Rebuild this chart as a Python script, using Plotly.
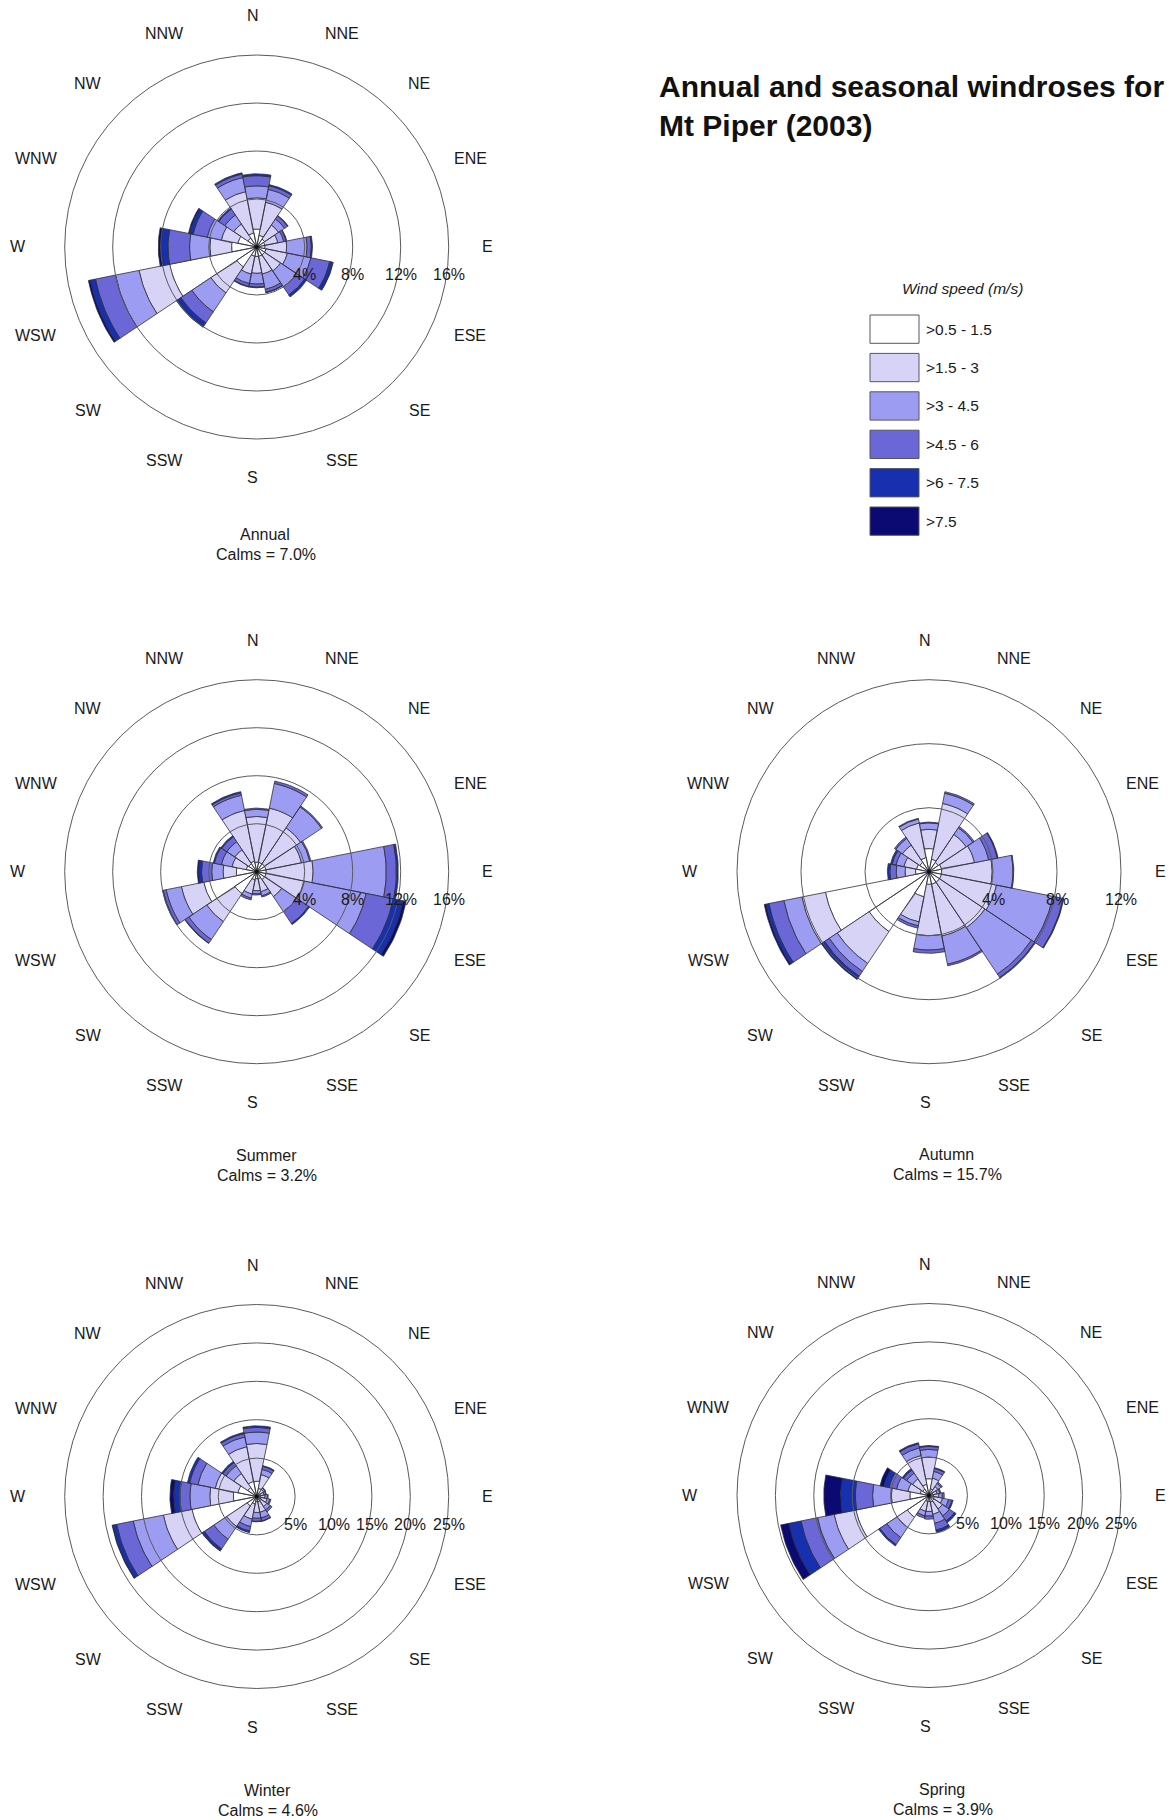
import math
import plotly.graph_objects as go

# ---------------------------------------------------------------------------
# Data: frequency (%) of each wind-speed class per direction sector
# Columns follow SPEED_CLASSES, rows follow DIRECTIONS.
# ---------------------------------------------------------------------------
DIRECTIONS = ["N", "NNE", "NE", "ENE", "E", "ESE", "SE", "SSE",
              "S", "SSW", "SW", "WSW", "W", "WNW", "NW", "NNW"]
SPEED_CLASSES = [">0.5 - 1.5", ">1.5 - 3", ">3 - 4.5", ">4.5 - 6", ">6 - 7.5", ">7.5"]
SPEED_COLORS = ["#ffffff", "#d7d3f7", "#9d9cf3", "#6b67d6", "#1630b0", "#0a0a72"]

ANNUAL = [
    [1.5, 2.6, 1.0, 0.85, 0.15, 0.0],
    [1.0, 2.8, 1.1, 0.3, 0.1, 0.0],
    [0.8, 1.4, 0.6, 0.3, 0.05, 0.0],
    [0.7, 1.1, 0.5, 0.2, 0.05, 0.0],
    [0.7, 1.8, 1.7, 0.35, 0.1, 0.0],
    [0.8, 1.8, 2.0, 1.6, 0.25, 0.05],
    [0.8, 1.6, 1.6, 0.8, 0.2, 0.0],
    [0.8, 1.5, 1.3, 0.25, 0.05, 0.0],
    [0.8, 1.4, 0.9, 0.25, 0.05, 0.0],
    [0.8, 1.5, 0.8, 0.25, 0.05, 0.0],
    [2.0, 2.6, 1.9, 1.1, 0.35, 0.1],
    [7.4, 2.6, 2.0, 1.7, 0.45, 0.15],
    [2.1, 1.8, 1.7, 1.8, 0.55, 0.25],
    [1.6, 1.4, 1.2, 1.2, 0.3, 0.1],
    [0.9, 1.4, 0.9, 0.6, 0.1, 0.0],
    [1.2, 3.5, 1.2, 0.3, 0.1, 0.0],
]

SUMMER = [
    [0.8, 3.8, 0.6, 0.1, 0.0, 0.0],
    [0.8, 4.6, 2.1, 0.2, 0.0, 0.0],
    [0.8, 3.6, 2.1, 0.1, 0.0, 0.0],
    [0.8, 3.0, 0.7, 0.1, 0.0, 0.0],
    [0.8, 3.9, 6.1, 0.85, 0.15, 0.0],
    [0.8, 3.25, 5.25, 2.3, 0.85, 0.25],
    [0.8, 1.7, 1.5, 1.2, 0.1, 0.0],
    [0.6, 1.1, 0.35, 0.1, 0.0, 0.0],
    [0.6, 1.0, 0.25, 0.1, 0.0, 0.0],
    [0.7, 1.2, 0.35, 0.15, 0.0, 0.0],
    [2.2, 2.8, 1.8, 0.35, 0.05, 0.0],
    [4.5, 1.9, 1.3, 0.25, 0.05, 0.0],
    [1.7, 1.1, 0.95, 0.85, 0.25, 0.1],
    [0.9, 1.2, 0.9, 0.6, 0.1, 0.0],
    [0.8, 1.4, 0.8, 0.5, 0.1, 0.0],
    [0.9, 4.3, 1.3, 0.2, 0.1, 0.0],
]

AUTUMN = [
    [1.45, 1.2, 0.4, 0.05, 0.0, 0.0],
    [0.8, 3.55, 0.65, 0.1, 0.0, 0.0],
    [0.7, 2.1, 0.5, 0.1, 0.0, 0.0],
    [0.8, 2.1, 0.9, 0.55, 0.05, 0.0],
    [0.8, 3.15, 1.3, 0.05, 0.0, 0.0],
    [0.8, 3.5, 3.6, 0.65, 0.05, 0.0],
    [0.8, 3.4, 3.5, 0.25, 0.05, 0.0],
    [0.8, 3.3, 1.8, 0.1, 0.0, 0.0],
    [0.8, 3.2, 0.9, 0.2, 0.0, 0.0],
    [1.6, 1.6, 0.25, 0.15, 0.0, 0.0],
    [4.5, 2.4, 0.6, 0.35, 0.2, 0.05],
    [6.6, 1.5, 1.15, 0.95, 0.2, 0.1],
    [0.85, 0.65, 0.55, 0.4, 0.15, 0.0],
    [0.8, 0.8, 0.5, 0.25, 0.1, 0.0],
    [0.7, 1.3, 0.5, 0.1, 0.0, 0.0],
    [0.9, 2.2, 0.25, 0.05, 0.0, 0.0],
]

WINTER = [
    [2.0, 4.9, 1.5, 0.6, 0.2, 0.0],
    [1.1, 1.8, 0.7, 0.4, 0.1, 0.0],
    [0.5, 0.6, 0.2, 0.1, 0.0, 0.0],
    [0.5, 0.5, 0.2, 0.1, 0.0, 0.0],
    [0.5, 0.6, 0.3, 0.1, 0.0, 0.0],
    [0.6, 0.8, 0.35, 0.15, 0.0, 0.0],
    [0.6, 1.0, 0.5, 0.3, 0.0, 0.0],
    [0.7, 1.4, 0.75, 0.4, 0.05, 0.0],
    [0.7, 1.4, 0.75, 0.4, 0.05, 0.0],
    [1.0, 2.0, 1.0, 0.6, 0.2, 0.0],
    [1.5, 3.2, 2.0, 1.5, 0.3, 0.05],
    [8.6, 3.8, 4.0, 2.2, 0.5, 0.1],
    [3.05, 3.05, 2.6, 1.3, 0.8, 0.5],
    [2.5, 3.0, 2.3, 1.1, 0.3, 0.0],
    [1.4, 2.2, 1.2, 0.5, 0.2, 0.0],
    [2.0, 4.6, 1.3, 0.45, 0.15, 0.0],
]

SPRING = [
    [2.2, 2.8, 1.0, 0.4, 0.1, 0.0],
    [0.9, 1.4, 0.9, 0.4, 0.1, 0.0],
    [0.6, 0.8, 0.5, 0.2, 0.0, 0.0],
    [0.5, 0.6, 0.35, 0.15, 0.0, 0.0],
    [0.6, 0.7, 0.45, 0.25, 0.0, 0.0],
    [0.7, 1.1, 0.8, 0.45, 0.15, 0.0],
    [0.8, 1.3, 1.1, 0.8, 0.25, 0.0],
    [0.9, 1.6, 1.2, 0.9, 0.3, 0.0],
    [0.8, 1.3, 0.6, 0.4, 0.0, 0.0],
    [0.8, 1.3, 0.6, 0.3, 0.0, 0.0],
    [3.4, 1.6, 1.6, 1.1, 0.2, 0.0],
    [9.7, 2.9, 2.2, 2.2, 1.6, 1.1],
    [2.5, 2.4, 2.45, 2.25, 1.9, 2.2],
    [1.2, 1.6, 1.5, 1.0, 0.7, 0.5],
    [1.0, 1.6, 0.9, 0.5, 0.2, 0.0],
    [1.5, 3.8, 1.0, 0.55, 0.15, 0.0],
]

ROSE_NAMES = ["Annual", "Summer", "Autumn", "Winter", "Spring"]
CALMS = [7.0, 3.2, 15.7, 4.6, 3.9]
ANNUAL_RINGS = [4, 8, 12, 16]
SUMMER_RINGS = [4, 8, 12, 16]
AUTUMN_RINGS = [4, 8, 12]
WINTER_RINGS = [5, 10, 15, 20, 25]
SPRING_RINGS = [5, 10, 15, 20, 25]

TITLE = "Annual and seasonal windroses for<br>Mt Piper (2003)"
LEGEND_TITLE = "Wind speed (m/s)"

# ---------------------------------------------------------------------------
# Page layout (pixels)
# ---------------------------------------------------------------------------
FIG_W, FIG_H = 1169, 1820
ROSE_CENTERS = [(256.7, 247.0), (256.7, 871.7), (929.0, 871.7),
                (256.7, 1496.5), (929.0, 1495.5)]
CAPTION_POS = [(265, 534), (266, 1155), (946, 1154), (267, 1790), (941.5, 1789)]
OUTER_RING_PX = 192.0
LABEL_R_PX = 231.0
BOX_HALF_PX = 235.0
FONT = "Liberation Sans, Arial, Helvetica, sans-serif"
TEXT_COLOR = "#1a1a1a"
LABEL_SIZE = 16
SECTOR = 360.0 / len(DIRECTIONS)


def px_x(px):
    return px / FIG_W


def px_y(py):
    return 1.0 - py / FIG_H


def wedge(inner, outer, centre_deg, n=14):
    """Closed outline of an annular sector (compass angle, clockwise from N)."""
    angs = [math.radians(centre_deg - SECTOR / 2 + SECTOR * t / n) for t in range(n + 1)]
    pts = [(outer * math.sin(a), outer * math.cos(a)) for a in angs]
    pts += [(inner * math.sin(a), inner * math.cos(a)) for a in reversed(angs)]
    pts.append(pts[0])
    return pts


def label_offset(a):
    """Page offset (px) of a compass label; western labels sit a little wider."""
    s, c = math.sin(a), math.cos(a)
    dx = LABEL_R_PX * s - 4.0 * c ** 4
    if s < 0:
        dx -= 8.0 * s * s
    return dx, -LABEL_R_PX * c


roses = list(zip(ROSE_NAMES,
                 [ANNUAL, SUMMER, AUTUMN, WINTER, SPRING],
                 [ANNUAL_RINGS, SUMMER_RINGS, AUTUMN_RINGS, WINTER_RINGS, SPRING_RINGS],
                 CALMS))

fig = go.Figure()
axes_layout = {}
shapes = []
annotations = []

for i, (name, table, rings, calm) in enumerate(roses):
    n = i + 1
    sfx = "" if n == 1 else str(n)
    xa, ya = "x" + sfx, "y" + sfx
    cx, cy = ROSE_CENTERS[i]
    k = OUTER_RING_PX / rings[-1]          # pixels per percent
    half = BOX_HALF_PX / k

    axes_layout["xaxis" + sfx] = dict(
        domain=[px_x(cx - BOX_HALF_PX), px_x(cx + BOX_HALF_PX)],
        range=[-half, half], visible=False, fixedrange=True, anchor=ya)
    axes_layout["yaxis" + sfx] = dict(
        domain=[px_y(cy + BOX_HALF_PX), px_y(cy - BOX_HALF_PX)],
        range=[-half, half], visible=False, fixedrange=True, anchor=xa)

    # stacked speed-class sectors, one trace per class
    for j, (label, colour) in enumerate(zip(SPEED_CLASSES, SPEED_COLORS)):
        xs, ys = [], []
        for d, row in enumerate(table):
            if row[j] <= 0:
                continue
            inner = sum(row[:j])
            outer = inner + row[j]
            for px_, py_ in wedge(inner, outer, d * SECTOR):
                xs.append(px_)
                ys.append(py_)
            xs.append(None)
            ys.append(None)
        fig.add_trace(go.Scatter(
            x=xs, y=ys, xaxis=xa, yaxis=ya, mode="lines", fill="toself",
            fillcolor=colour, line=dict(color="#2e2e3a", width=0.8),
            name=label, hoverinfo="skip", showlegend=False))

    # hub
    fig.add_trace(go.Scatter(x=[0], y=[0], xaxis=xa, yaxis=ya, mode="markers",
                             marker=dict(color="#111111", size=4),
                             hoverinfo="skip", showlegend=False))

    # percentage rings and their labels
    for r in rings:
        shapes.append(dict(type="circle", xref=xa, yref=ya, x0=-r, x1=r, y0=-r, y1=r,
                           line=dict(color="#5a5a5a", width=1), layer="above"))
        annotations.append(dict(x=r, y=0, xref=xa, yref=ya, text=f"{r}%",
                                showarrow=False, yshift=-28,
                                font=dict(family=FONT, size=LABEL_SIZE, color=TEXT_COLOR)))

    # compass labels (placed on the page around the outer ring)
    for d, lab in enumerate(DIRECTIONS):
        dx, dy = label_offset(math.radians(d * SECTOR))
        annotations.append(dict(x=px_x(cx + dx), y=px_y(cy + dy),
                                xref="paper", yref="paper", text=lab, showarrow=False,
                                xanchor="center", yanchor="middle",
                                font=dict(family=FONT, size=LABEL_SIZE, color=TEXT_COLOR)))

    # caption
    capx, capy = CAPTION_POS[i]
    annotations.append(dict(x=px_x(capx), y=px_y(capy), xref="paper", yref="paper",
                            text=name, showarrow=False, xanchor="center", yanchor="middle",
                            font=dict(family=FONT, size=LABEL_SIZE, color=TEXT_COLOR)))
    annotations.append(dict(x=px_x(capx + 1), y=px_y(capy + 20.5), xref="paper", yref="paper",
                            text=f"Calms = {calm:.1f}%", showarrow=False,
                            xanchor="center", yanchor="middle",
                            font=dict(family=FONT, size=LABEL_SIZE, color=TEXT_COLOR)))

# ---------------------------------------------------------------------------
# Title
# ---------------------------------------------------------------------------
annotations.append(dict(x=px_x(657), y=px_y(106), xref="paper", yref="paper",
                        text=TITLE, showarrow=False, xanchor="left", yanchor="middle",
                        align="left",
                        font=dict(family=FONT, size=30, color="#111111", weight="bold")))

# ---------------------------------------------------------------------------
# Speed-class key
# ---------------------------------------------------------------------------
KEY_X0, KEY_X1 = 870, 919
KEY_TOP, KEY_STEP, KEY_H = 315.0, 38.4, 28.3
annotations.append(dict(x=px_x(962), y=px_y(288), xref="paper", yref="paper",
                        text=LEGEND_TITLE, showarrow=False, xanchor="center", yanchor="middle",
                        font=dict(family=FONT, size=15.5, color=TEXT_COLOR, style="italic")))
for j, (label, colour) in enumerate(zip(SPEED_CLASSES, SPEED_COLORS)):
    top = KEY_TOP + j * KEY_STEP
    shapes.append(dict(type="rect", xref="paper", yref="paper",
                       x0=px_x(KEY_X0), x1=px_x(KEY_X1),
                       y0=px_y(top + KEY_H), y1=px_y(top),
                       fillcolor=colour, line=dict(color="#555566", width=1)))
    annotations.append(dict(x=px_x(924), y=px_y(top + KEY_H / 2), xref="paper", yref="paper",
                            text=label, showarrow=False, xanchor="left", yanchor="middle",
                            font=dict(family=FONT, size=15.5, color=TEXT_COLOR)))

fig.update_layout(
    width=FIG_W, height=FIG_H,
    margin=dict(l=0, r=0, t=0, b=0),
    paper_bgcolor="white", plot_bgcolor="rgba(0,0,0,0)",
    showlegend=False,
    shapes=shapes, annotations=annotations,
    **axes_layout,
)

fig.write_html("out.html")
